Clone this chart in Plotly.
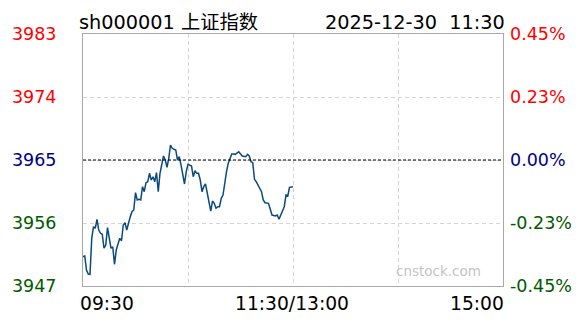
import plotly.graph_objects as go

# ---- data ----
symbol_title = "sh000001 上证指数"
stamp = "2025-12-30\u00a0\u00a011:30"
prev_close = 3965.0

times = [
    "09:30", "09:31", "09:32", "09:33", "09:34", "09:35", "09:36", "09:37", "09:38", "09:39",
    "09:40", "09:41", "09:42", "09:43", "09:44", "09:46", "09:47", "09:48", "09:49", "09:50",
    "09:51", "09:52", "09:53", "09:54", "09:55", "09:57", "09:58", "09:59", "10:00", "10:01",
    "10:02", "10:03", "10:04", "10:05", "10:06", "10:07", "10:08", "10:09", "10:10", "10:11",
    "10:12", "10:13", "10:14", "10:16", "10:17", "10:18", "10:19", "10:20", "10:21", "10:22",
    "10:23", "10:24", "10:25", "10:26", "10:27", "10:28", "10:29", "10:30", "10:32", "10:33",
    "10:34", "10:35", "10:36", "10:37", "10:38", "10:39", "10:40", "10:41", "10:42", "10:43",
    "10:44", "10:45", "10:46", "10:47", "10:48", "10:49", "10:50", "10:51", "10:52", "10:53",
    "10:55", "10:56", "10:57", "10:59", "11:00", "11:01", "11:03", "11:04", "11:05", "11:06",
    "11:07", "11:08", "11:09", "11:11", "11:12", "11:13", "11:14", "11:16", "11:17", "11:18",
    "11:20", "11:21", "11:22", "11:24", "11:25", "11:26", "11:27", "11:28", "11:30",
]
prices = [
    3951.19, 3951.29, 3949.29, 3948.71, 3948.67, 3953.81, 3955.47, 3955.24, 3956.53, 3955.00,
    3954.53, 3954.39, 3952.39, 3952.86, 3955.33, 3952.39, 3952.61, 3950.10, 3952.14, 3952.86,
    3953.81, 3953.47, 3955.71, 3956.04, 3955.00, 3956.90, 3957.61, 3957.86, 3960.33, 3959.29,
    3959.39, 3959.29, 3961.19, 3960.47, 3961.76, 3961.90, 3963.10, 3962.14, 3962.61, 3961.90,
    3963.19, 3960.47, 3963.10, 3965.57, 3965.00, 3963.96, 3965.24, 3967.14, 3966.67, 3966.53,
    3966.43, 3965.00, 3965.47, 3964.29, 3962.61, 3961.57, 3963.33, 3964.39, 3964.14, 3962.61,
    3963.47, 3963.10, 3963.10, 3962.14, 3960.47, 3961.19, 3961.57, 3960.24, 3958.90, 3957.71,
    3959.14, 3958.81, 3958.10, 3958.33, 3958.33, 3959.53, 3960.00, 3961.90, 3963.33, 3964.53,
    3965.86, 3965.86, 3965.81, 3966.19, 3965.86, 3965.57, 3965.47, 3965.81, 3965.57, 3964.76,
    3964.61, 3962.24, 3961.90, 3960.96, 3960.47, 3959.29, 3958.90, 3958.81, 3957.86, 3957.14,
    3957.00, 3957.14, 3956.53, 3957.86, 3958.33, 3960.00, 3959.86, 3961.10, 3961.19,
]

price_ticks = [3947, 3956, 3965, 3974, 3983]
x_tick_minutes = [0, 60, 120, 180, 240]
x_label_minutes = [0, 120, 240]
x_labels = ["09:30", "11:30/13:00", "15:00"]
watermark = "cnstock.com"

# ---- styling ----
FONT = "DejaVu Sans, Verdana, Noto Sans CJK SC, sans-serif"
RED, NAVY, GREEN = "#ff0000", "#000080", "#005a00"


def to_minute(t):
    h, m = map(int, t.split(":"))
    v = h * 60 + m - (9 * 60 + 30)
    if v > 120:  # afternoon session after lunch break
        v -= 90
    return v


xs = [to_minute(t) for t in times]


def tick_color(v):
    if v > prev_close:
        return RED
    if v < prev_close:
        return GREEN
    return NAVY


left_text = [f'<span style="color:{tick_color(v)}">{v}</span>' for v in price_ticks]
right_text = [
    f'<span style="color:{tick_color(v)}">{(v - prev_close) / prev_close * 100:.2f}%</span>'
    for v in price_ticks
]

fig = go.Figure()
fig.add_trace(go.Scatter(x=xs, y=prices, mode="lines",
                         line=dict(color="#0b4a7d", width=1.5),
                         hoverinfo="skip", showlegend=False))
fig.add_trace(go.Scatter(x=xs, y=prices, mode="lines", yaxis="y2",
                         line=dict(color="rgba(0,0,0,0)", width=0),
                         hoverinfo="skip", showlegend=False))

yr = [price_ticks[0], price_ticks[-1]]

fig.update_layout(
    width=588, height=324,
    margin=dict(l=79, r=85, t=34, b=38),
    paper_bgcolor="white", plot_bgcolor="white",
    font=dict(family=FONT, color="black"),
    xaxis=dict(range=[0, 240], tickvals=x_tick_minutes, showticklabels=False,
               showgrid=True, gridcolor="#d4d4d4", griddash="4px,3px", gridwidth=1,
               zeroline=False, showline=True, mirror=True, linecolor="#a8a8a8",
               linewidth=1, ticks=""),
    yaxis=dict(range=yr, tickvals=price_ticks, ticktext=left_text,
               tickfont=dict(size=17.5, family=FONT), ticks="", ticklabelstandoff=22,
               showgrid=True, gridcolor="#d4d4d4", griddash="4px,3px", gridwidth=1,
               zeroline=False, showline=True, mirror=True, linecolor="#a8a8a8",
               linewidth=1),
    yaxis2=dict(range=yr, tickvals=price_ticks, ticktext=right_text, overlaying="y",
                side="right", tickfont=dict(size=17.5, family=FONT), ticks="",
                ticklabelstandoff=6, showgrid=False, zeroline=False, showline=False),
)

# previous close reference line
fig.add_shape(type="line", xref="paper", x0=0, x1=1, yref="y", y0=prev_close, y1=prev_close,
              line=dict(color="black", width=1, dash="3px,2px"), layer="above")

# x-axis labels (first left-aligned, middle centred, last right-aligned)
anchors = ["left", "center", "right"]
shifts = [-5, -1, 3]
for xv, txt, anc, sh in zip(x_label_minutes, x_labels, anchors, shifts):
    fig.add_annotation(x=xv, xref="x", y=0, yref="paper", yanchor="top", xanchor=anc,
                       text=txt, showarrow=False, yshift=-5, xshift=sh,
                       font=dict(size=18.7, family=FONT, color="black"))

# header
fig.add_annotation(x=0, xref="paper", y=1, yref="paper", xanchor="left", yanchor="bottom",
                   text=symbol_title, showarrow=False, xshift=-6, yshift=-2,
                   font=dict(size=19.3, family=FONT, color="black"))
fig.add_annotation(x=1, xref="paper", y=1, yref="paper", xanchor="right", yanchor="bottom",
                   text=stamp, showarrow=False, xshift=4, yshift=-2,
                   font=dict(size=19.3, family=FONT, color="black"))

# watermark
fig.add_annotation(x=0.952, xref="paper", y=0.06, yref="paper", xanchor="right",
                   yanchor="middle", text=watermark, showarrow=False,
                   font=dict(size=13.5, family=FONT, color="#c4c4c4"))

fig.write_html("out.html")
